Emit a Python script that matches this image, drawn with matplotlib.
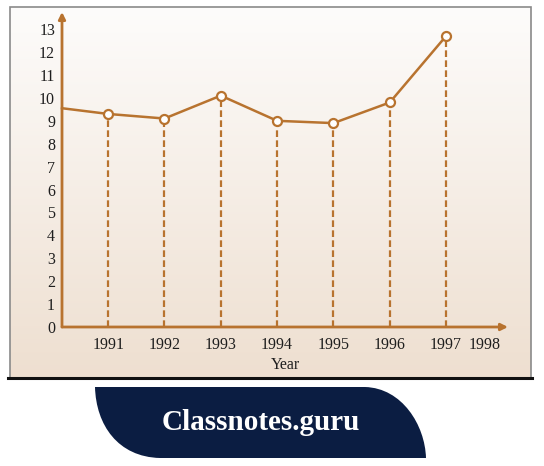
import matplotlib
matplotlib.use("Agg")
import matplotlib.pyplot as plt
import numpy as np
from matplotlib.path import Path
from matplotlib.patches import PathPatch, Rectangle

years = [1991, 1992, 1993, 1994, 1995, 1996, 1997]
values = [9.3, 9.1, 10.1, 9.0, 8.9, 9.8, 12.7]
start_value = 9.55
yticks = list(range(0, 14))
xlabel = "Year"
extra_label = "1998"
brand = "Classnotes.guru"

W, H = 544, 466
fig = plt.figure(figsize=(W / 100, H / 100), dpi=100)
fig.patch.set_facecolor("white")

# background frame with gradient
bg = fig.add_axes([0, 0, 1, 1], zorder=-5)
bg.set_xlim(0, W)
bg.set_ylim(H, 0)
bg.axis("off")
grad = np.linspace(0, 1, 256)[:, None]
top = np.array([253, 252, 251]) / 255
bot = np.array([238, 223, 208]) / 255
img = top[None, None, :] * (1 - grad[:, :, None]) + bot[None, None, :] * grad[:, :, None]
bg.imshow(img, extent=[10, 531, 378, 7], aspect="auto", zorder=0)
bg.add_patch(Rectangle((10, 7), 521, 371, fill=False, ec="#8a8a8a", lw=1.2, zorder=1))
bg.plot([8, 532], [378, 378], color="#111111", lw=2.2, zorder=2)

# banner
verts = [(95, 387), (365, 387),
         (402, 388), (425, 425), (426, 458),
         (160, 458),
         (118, 457), (96, 425), (95, 387),
         (95, 387)]
codes = [Path.MOVETO, Path.LINETO,
         Path.CURVE4, Path.CURVE4, Path.CURVE4,
         Path.LINETO,
         Path.CURVE4, Path.CURVE4, Path.CURVE4,
         Path.CLOSEPOLY]
bg.add_patch(PathPatch(Path(verts, codes), fc="#0b1d42", ec="none", zorder=2))
bg.text(261, 423, brand, color="white", fontsize=21, fontweight="bold",
        family="Liberation Serif", ha="center", va="center", zorder=3)

# main axes
ax = fig.add_axes([62 / W, (H - 327) / H, (508 - 62) / W, (327 - 12) / H])
ax.patch.set_alpha(0)
ax.set_xlim(1990.18, 1998.1)
ax.set_ylim(0, 13.75)
for s in ax.spines.values():
    s.set_visible(False)

c = "#b8732f"
ax.annotate("", xy=(1, 0), xytext=(0, 0), xycoords="axes fraction",
            arrowprops=dict(arrowstyle="-|>", color=c, lw=2, mutation_scale=10, shrinkA=0, shrinkB=0))
ax.annotate("", xy=(0, 1), xytext=(0, 0), xycoords="axes fraction",
            arrowprops=dict(arrowstyle="-|>", color=c, lw=2, mutation_scale=10, shrinkA=0, shrinkB=0))

xs = [ax.get_xlim()[0]] + years
ys = [start_value] + values
ax.plot(xs, ys, color=c, lw=1.8, zorder=3, clip_on=False)
ax.plot(years, values, ls="none", marker="o", ms=6.5, mfc="white", mec=c, mew=1.6, zorder=4)
ax.vlines(years, 0, np.array(values) - 0.25, colors=c, linestyles=(0, (3, 1.5)), lw=1.6, zorder=2)

ax.set_xticks(years)
ax.set_xticklabels([str(y) for y in years])
ax.set_xticks([1997.68], labels=[extra_label], minor=True)
ax.set_yticks(yticks)
ax.set_yticklabels([str(v) for v in yticks])
ax.tick_params(which="both", length=0, labelsize=11.5, colors="#1e1e1e", pad=5)
ax.tick_params(axis="x", which="both", pad=7)
for lab in ax.get_xticklabels(which="both") + ax.get_yticklabels():
    lab.set_family("Liberation Serif")
ax.set_xlabel(xlabel, fontsize=11.5, family="Liberation Serif", color="#1e1e1e", labelpad=3)

fig.savefig("out.png", dpi=100)
